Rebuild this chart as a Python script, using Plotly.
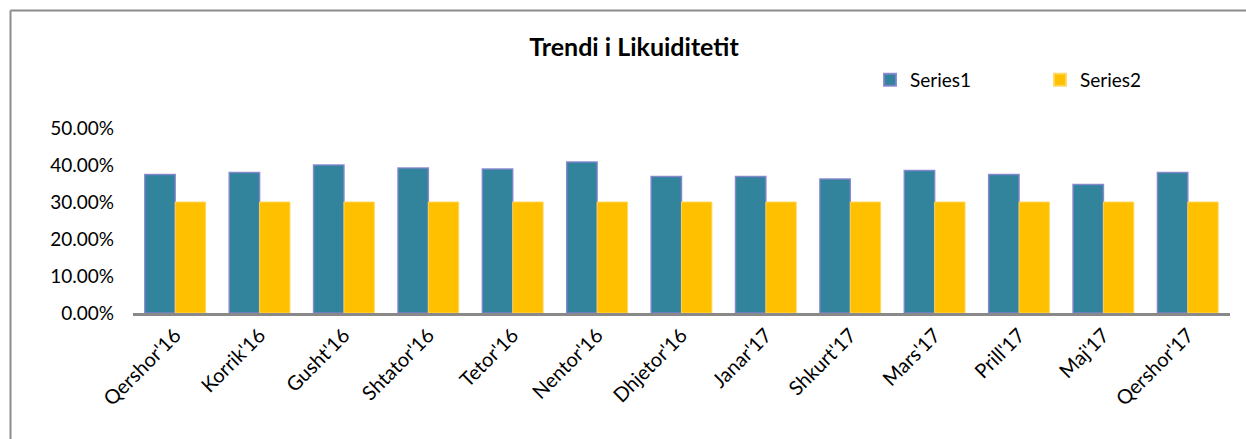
import plotly.graph_objects as go

categories = ["Qershor'16", "Korrik'16", "Gusht'16", "Shtator'16", "Tetor'16", "Nentor'16",
              "Dhjetor'16", "Janar'17", "Shkurt'17", "Mars'17", "Prill'17", "Maj'17", "Qershor'17"]
series1 = [0.374, 0.380, 0.400, 0.392, 0.389, 0.408, 0.369, 0.369, 0.362, 0.385, 0.374, 0.347, 0.380]
series2 = [0.30] * 13
tick_vals = [0, 0.1, 0.2, 0.3, 0.4, 0.5]
tick_text = ["0.00%", "10.00%", "20.00%", "30.00%", "40.00%", "50.00%"]

W, H = 1246, 439
L, R, T, B = 133, 16, 128, 126
pw, ph = W - L - R, H - T - B

def px_x(x):
    return (x - L) / pw

def px_y(y):
    return (H - B - y) / ph

FONT = "Lato, 'Open Sans', sans-serif"

fig = go.Figure()
fig.add_trace(go.Bar(
    x=categories, y=series1, name="Series1",
    marker=dict(color="#31849B", line=dict(color="rgba(130,130,205,0.9)", width=1.5)),
))
fig.add_trace(go.Bar(
    x=categories, y=series2, name="Series2",
    marker=dict(color="#FFC000", line=dict(color="rgba(255,215,90,0.9)", width=1)),
))

fig.update_layout(
    width=W, height=H,
    margin=dict(l=L, r=R, t=T, b=B, autoexpand=False),
    paper_bgcolor="white", plot_bgcolor="white",
    barmode="group", bargap=0.28, bargroupgap=0,
    font=dict(family=FONT, size=19, color="black"),
    title=dict(text="<b>Trendi i Likuiditetit</b>", x=634 / W, xanchor="center",
               y=1 - 47 / H, yanchor="middle", font=dict(size=25, family=FONT, color="black")),
    legend=dict(orientation="h", x=px_x(870), xanchor="left", y=px_y(80), yanchor="middle",
                entrywidth=125, entrywidthmode="pixels", font=dict(size=19, family=FONT),
                bgcolor="rgba(0,0,0,0)", itemsizing="constant", itemwidth=30),
    xaxis=dict(showline=True, linecolor="#898989", linewidth=2.5, tickangle=-45,
               showgrid=False, ticks="", tickfont=dict(size=20, family=FONT)),
    yaxis=dict(range=[0, 0.5], tickvals=tick_vals, ticktext=tick_text, showgrid=False,
               zeroline=False, showline=False, ticks="", ticklabelstandoff=18,
               tickfont=dict(size=19, family=FONT)),
    shapes=[
        dict(type="line", xref="paper", yref="paper", x0=px_x(10.5), x1=px_x(1260),
             y0=px_y(10.5), y1=px_y(10.5), line=dict(color="#8c8c8c", width=2)),
        dict(type="line", xref="paper", yref="paper", x0=px_x(10.5), x1=px_x(10.5),
             y0=px_y(10.5), y1=px_y(460), line=dict(color="#8c8c8c", width=2)),
    ],
)

fig.write_html("out.html", config={"displayModeBar": False},
               post_script="document.body.style.margin='0';document.body.style.overflow='hidden';")
